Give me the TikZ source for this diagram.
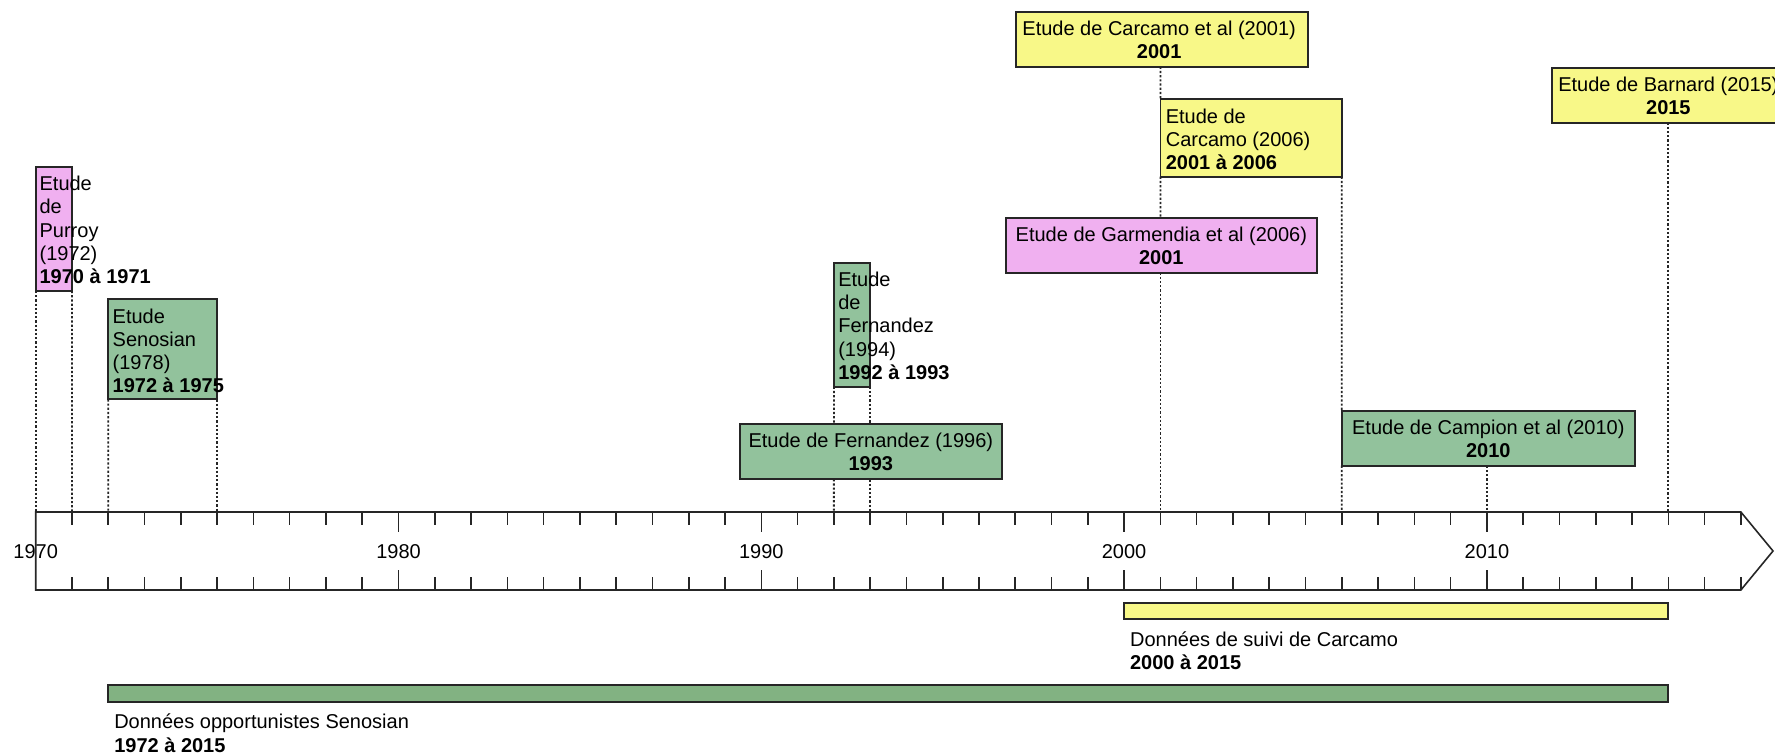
\documentclass[tikz,border=0pt]{standalone}
\usepackage{fontspec}
\setmainfont{Liberation Sans}
\usetikzlibrary{backgrounds}
\definecolor{pinkc}{HTML}{F0B0F0}
\definecolor{greenc}{HTML}{92C29C}
\definecolor{yellowc}{HTML}{F8F888}
\definecolor{greenbar}{HTML}{82B282}
\definecolor{edgec}{HTML}{262626}
\begin{document}
\begin{tikzpicture}[x=0.5pt,y=-0.5pt,
  box/.style={draw=edgec, line width=0.9pt, inner sep=0pt, outer sep=0pt, anchor=north west},
  txt/.style={inner sep=0pt, font=\fontsize{10}{11.6}\selectfont, text=black},
  conn/.style={line width=0.9pt, dash pattern=on 1.1pt off 1pt, draw=edgec},
  axisline/.style={line width=0.8pt, draw=edgec},
]
\useasboundingbox (0,0) rectangle (1775,753);

% year coordinates on the axis (top and bottom edges)
\foreach \y in {1970,...,2017}{
  \coordinate (t\y) at ({35.7+36.28*(\y-1970)},512);
  \coordinate (b\y) at ({35.7+36.28*(\y-1970)},590);
}

% axis
\draw[axisline] (b1970) -- (t1970) -- (t2017) -- (1773,551) -- (b2017) -- cycle;
\foreach \y in {1971,...,2017}{
  \draw[axisline] (t\y) -- ++(0,12.7);
  \draw[axisline] (b\y) -- ++(0,-13);
}
\foreach \y in {1980,1990,2000,2010}{
  \draw[axisline] (t\y) -- ++(0,20);
  \draw[axisline] (b\y) -- ++(0,-20);
}
\foreach \y in {1970,1980,1990,2000,2010}{
  \node[txt] (l\y) at ({35.7+36.28*(\y-1970)},552) {\y};
}

% boxes
\node[box, fill=pinkc, minimum width=18.15pt, minimum height=62.15pt] (purroy) at (35.7,166.7) {};
\node[box, fill=greenc, minimum width=54.4pt, minimum height=50pt] (senosian) at (108.3,299.3) {};
\node[box, fill=greenc, minimum width=18.15pt, minimum height=62pt] (fern94) at (833.9,262.7) {};
\node[box, fill=greenc, minimum width=130.85pt, minimum height=27.65pt] (fern96) at (740,424) {};
\node[box, fill=yellowc, minimum width=146.15pt, minimum height=27.2pt] (carcEA) at (1016,12.3) {};
\node[box, fill=yellowc, minimum width=90.7pt, minimum height=38.7pt] (carc06) at (1160.4,99.3) {};
\node[box, fill=pinkc, minimum width=155.35pt, minimum height=27.2pt] (garm) at (1006,218.3) {};
\node[box, fill=greenc, minimum width=146.5pt, minimum height=27.35pt] (campion) at (1341.8,411) {};
\node[box, fill=yellowc, minimum width=116.65pt, minimum height=27.2pt] (barnard) at (1551.7,68.3) {};
\node[box, fill=yellowc, minimum width=272.1pt, minimum height=8.3pt] (carcbar) at (1124.1,602.7) {};
\node[box, fill=greenbar, minimum width=780pt, minimum height=8.35pt] (senbar) at (108.3,685) {};

% texts
\node[txt, align=left, anchor=north west] (purroyT) at ([xshift=1.75pt,yshift=-4.6pt]purroy.north west)
  {Etude\\de\\Purroy\\(1972)\\\textbf{1970 à 1971}};
\node[txt, align=left, anchor=north west] (senosianT) at ([xshift=2pt,yshift=-4.5pt]senosian.north west)
  {Etude\\Senosian\\(1978)\\\textbf{1972 à 1975}};
\node[txt, align=left, anchor=north west] (fern94T) at ([xshift=2pt,yshift=-4.5pt]fern94.north west)
  {Etude\\de\\Fernandez\\(1994)\\\textbf{1992 à 1993}};
\node[txt, align=center, anchor=north] (fern96T) at ([yshift=-4.3pt]fern96.north)
  {Etude de Fernandez (1996)\\\textbf{1993}};
\node[txt, align=center, anchor=north] (carcEAT) at ([xshift=-1.5pt,yshift=-4.2pt]carcEA.north)
  {Etude de Carcamo et al (2001)\\\textbf{2001}};
\node[txt, align=left, anchor=north west] (carc06T) at ([xshift=2.5pt,yshift=-4.5pt]carc06.north west)
  {Etude de\\Carcamo (2006)\\\textbf{2001 à 2006}};
\node[txt, align=center, anchor=north] (garmT) at ([yshift=-4.3pt]garm.north)
  {Etude de Garmendia et al (2006)\\\textbf{2001}};
\node[txt, align=center, anchor=north] (campionT) at ([yshift=-4.3pt]campion.north)
  {Etude de Campion et al (2010)\\\textbf{2010}};
\node[txt, align=center, anchor=north] (barnardT) at ([yshift=-4.3pt]barnard.north)
  {Etude de Barnard (2015)\\\textbf{2015}};
\node[txt, align=left, anchor=north west] (carcbarT) at ([xshift=2.8pt,yshift=-6pt]carcbar.south west)
  {Données de suivi de Carcamo\\\textbf{2000 à 2015}};
\node[txt, align=left, anchor=north west] (senbarT) at ([xshift=2.8pt,yshift=-6pt]senbar.south west)
  {Données opportunistes Senosian\\\textbf{1972 à 2015}};

% dotted connectors behind boxes
\begin{scope}[on background layer]
  \draw[conn] (purroy.south west) -- (t1970);
  \draw[conn] (purroy.south east) -- (t1971);
  \draw[conn] (senosian.south west) -- (t1972);
  \draw[conn] (senosian.south east) -- (t1975);
  \draw[conn] (fern94.south west) -- (t1992);
  \draw[conn] (fern94.south east) -- (fern94.south east |- fern96.north);
  \draw[conn] (fern96.south -| t1993) -- (t1993);
  \draw[conn] (carcEA.south -| t2001) -- (carc06.north west);
  \draw[conn] (carc06.south west) -- (garm.north -| t2001);
  \draw[conn] (garm.south -| t2001) -- (t2001);
  \draw[conn] (carc06.south east) -- (campion.north west);
  \draw[conn] (campion.south west) -- (t2006);
  \draw[conn] (campion.south -| t2010) -- (t2010);
  \draw[conn] (barnard.south -| t2015) -- (t2015);
\end{scope}
\end{tikzpicture}
\end{document}
